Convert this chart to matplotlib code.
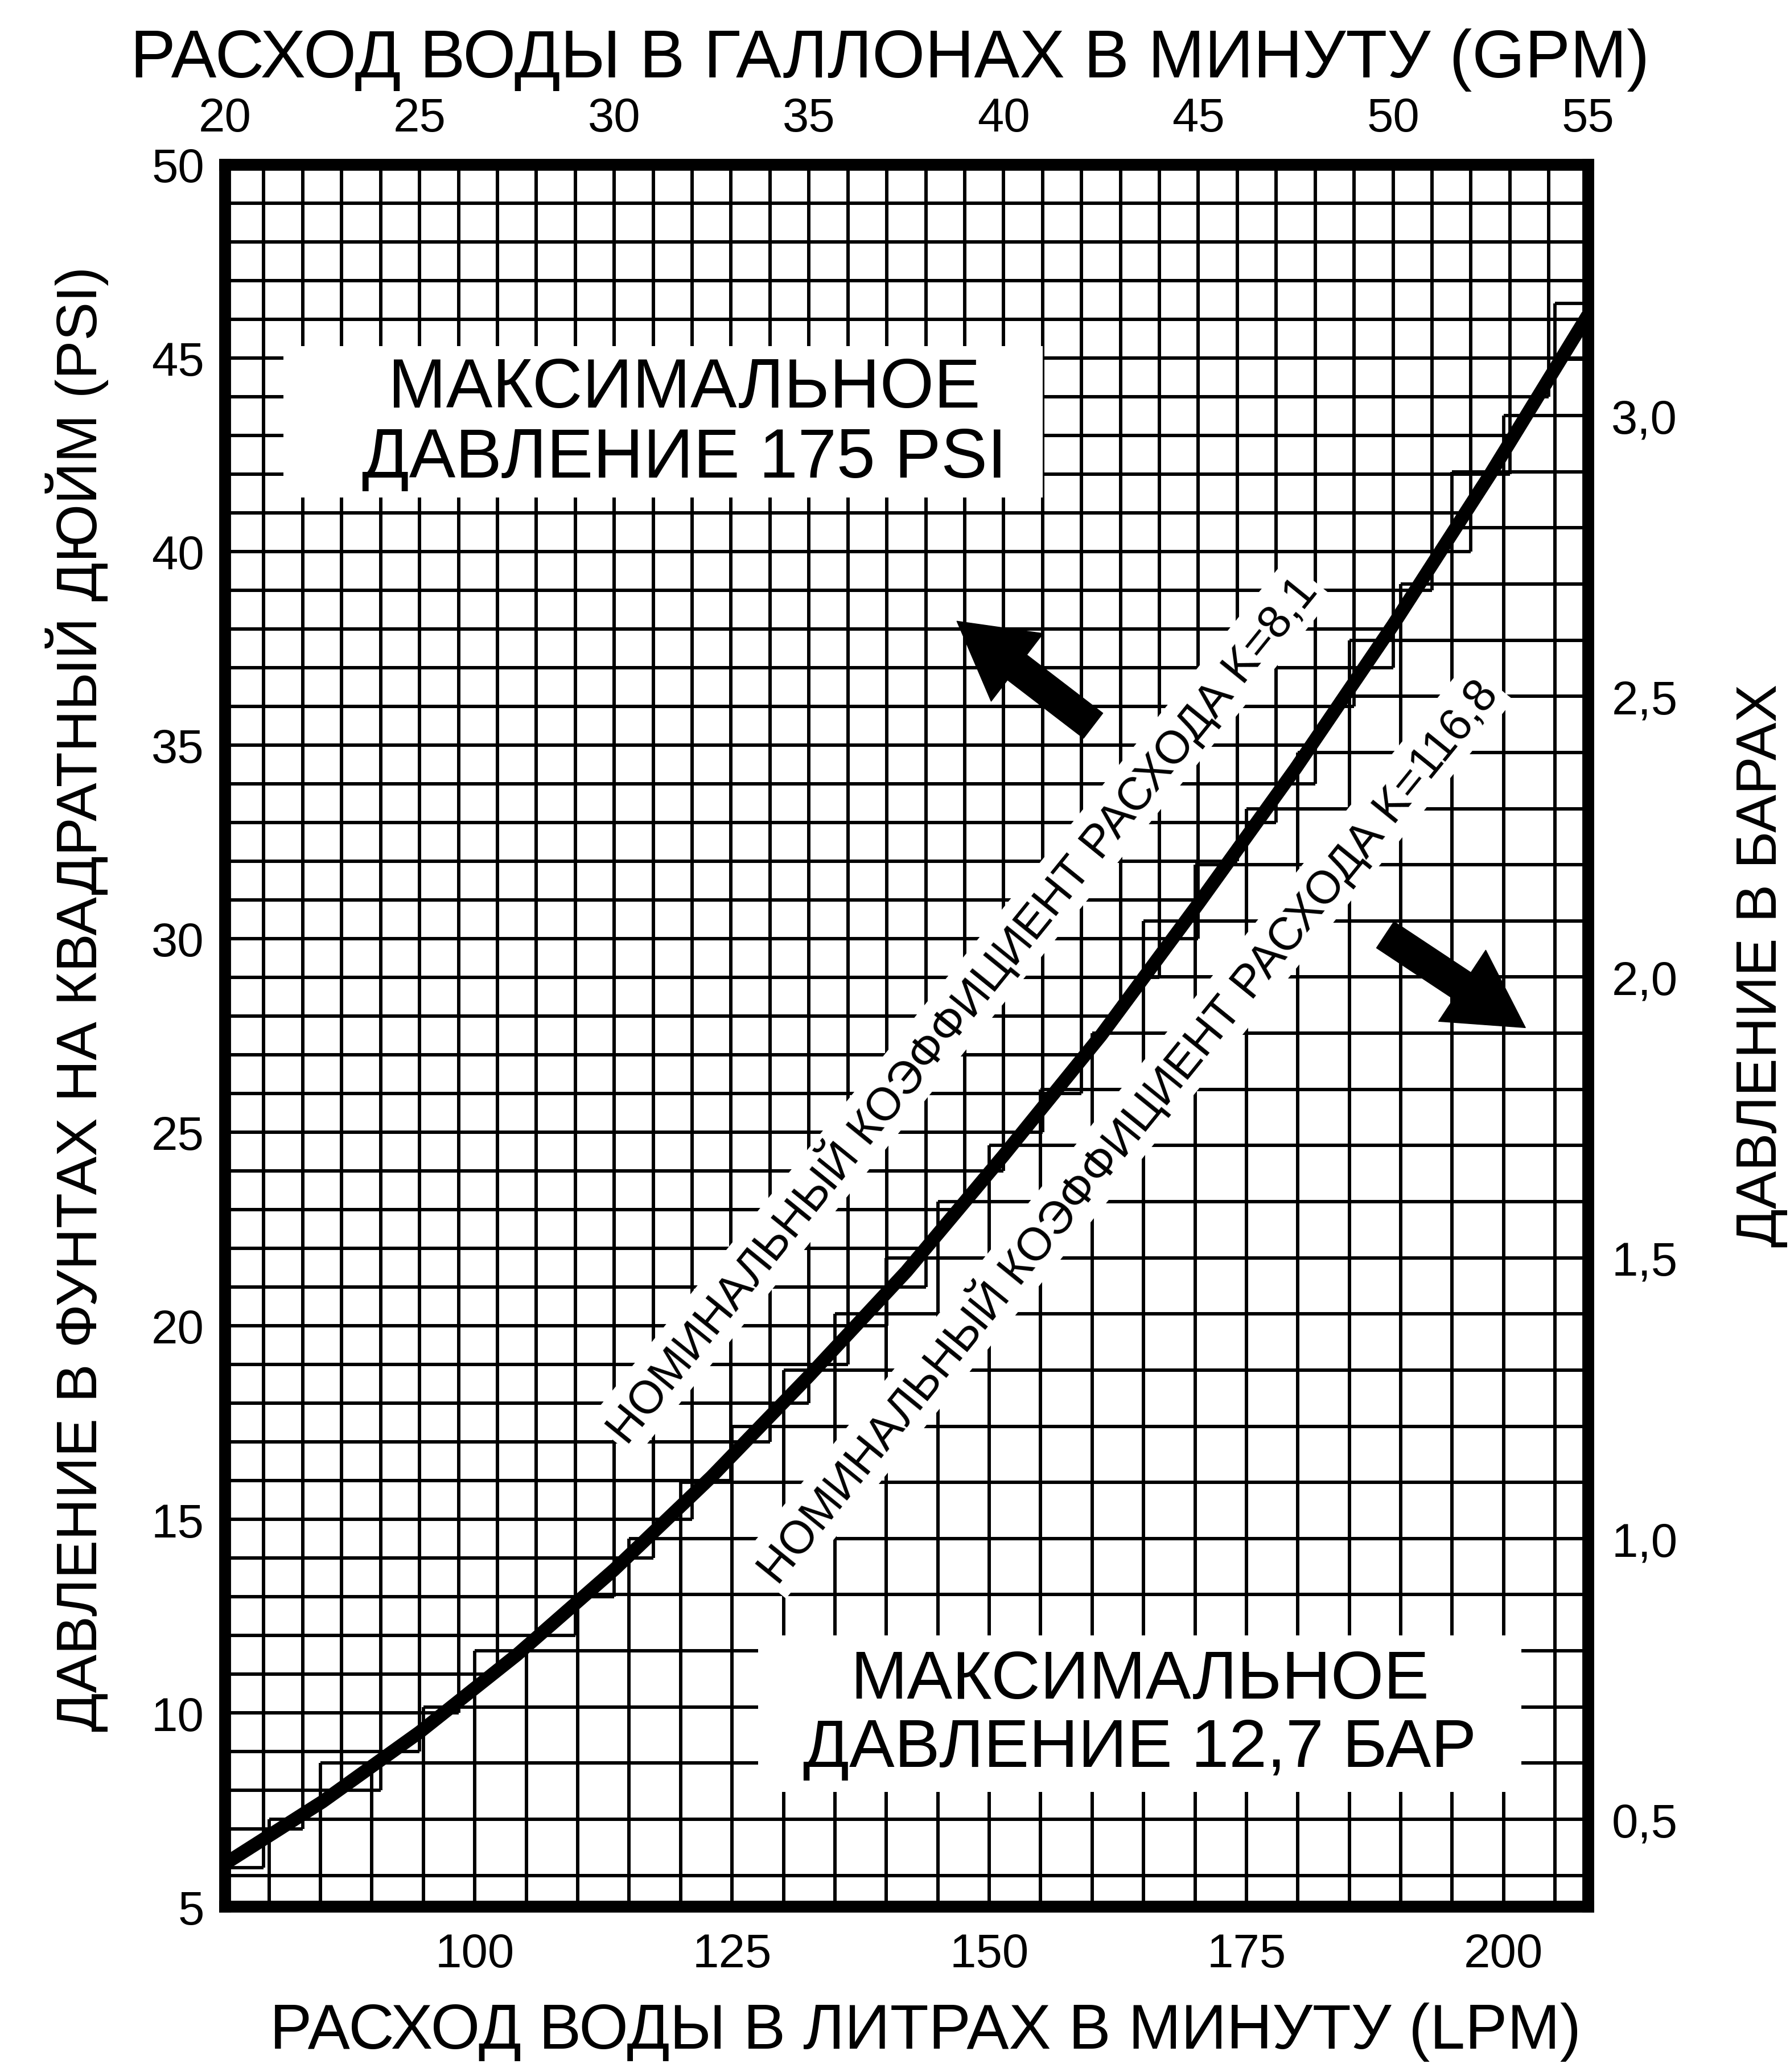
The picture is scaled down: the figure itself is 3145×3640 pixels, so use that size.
import numpy as np
import matplotlib
matplotlib.use('Agg')
import matplotlib.pyplot as plt
from matplotlib.collections import LineCollection
from matplotlib.patches import Rectangle, FancyArrowPatch

plt.rcParams['font.family'] = ['Liberation Sans', 'DejaVu Sans']

# K-factor curve (flow in GPM, pressure in PSI)
gpm = [20, 22.5, 25, 27.5, 30, 32.5, 35, 37.5, 40, 42.5, 45, 47.5, 50, 52.5, 55]
psi = [6.1, 7.7, 9.5, 11.5, 13.7, 16.1, 18.7, 21.4, 24.4, 27.5, 30.9, 34.4, 38.1, 42.0, 46.1]

gpm_ticks = [20, 25, 30, 35, 40, 45, 50, 55]
psi_ticks = [5, 10, 15, 20, 25, 30, 35, 40, 45, 50]
lpm_ticks = [100, 125, 150, 175, 200]
bar_ticks = [0.5, 1.0, 1.5, 2.0, 2.5, 3.0]
bar_labels = ['0,5', '1,0', '1,5', '2,0', '2,5', '3,0']

LPM_PER_GPM = 3.785
PSI_PER_BAR = 14.5038


def g2l(x):
    return np.asarray(x) * LPM_PER_GPM


def l2g(x):
    return np.asarray(x) / LPM_PER_GPM


def p2b(y):
    return np.asarray(y) / PSI_PER_BAR


def b2p(y):
    return np.asarray(y) * PSI_PER_BAR


def curve_at(q):
    return np.interp(q, gpm, psi)


def cell_edges(xs, ys, keep):
    segs = []
    for i in range(len(xs) - 1):
        for j in range(len(ys) - 1):
            if keep((xs[i] + xs[i + 1]) / 2, (ys[j] + ys[j + 1]) / 2):
                x0, x1, y0, y1 = xs[i], xs[i + 1], ys[j], ys[j + 1]
                segs += [[(x0, y0), (x1, y0)], [(x0, y1), (x1, y1)],
                         [(x0, y0), (x0, y1)], [(x1, y0), (x1, y1)]]
    return segs


fig = plt.figure(figsize=(31.45, 36.41), dpi=100)
ax = fig.add_axes([0.1256, 0.0799, 0.7614, 0.8405])
ax.set_xlim(20, 55)
ax.set_ylim(5, 50)

# graph paper: GPM/PSI grid above the curve, LPM/bar grid below it
upper = cell_edges(np.arange(20, 56, 1.0), np.arange(5, 51, 1.0),
                   lambda q, p: p > curve_at(q))
lower = cell_edges(l2g(np.arange(75, 215, 5.0)), b2p(np.arange(0.3, 3.55, 0.1)),
                   lambda q, p: p < curve_at(q))
ax.add_collection(LineCollection(upper, colors='black', linewidths=4.2, zorder=1))
ax.add_collection(LineCollection(lower, colors='black', linewidths=4.2, zorder=1))

# white label boxes
ax.add_patch(Rectangle((21.5, 41.4), 19.5, 3.9, facecolor='white', edgecolor='none', zorder=2))
ax.add_patch(Rectangle((33.7, 7.95), 19.6, 4.05, facecolor='white', edgecolor='none', zorder=2))

ax.text(31.8, 43.3, 'МАКСИМАЛЬНОЕ\nДАВЛЕНИЕ 175 PSI', ha='center', va='center',
        fontsize=88, linespacing=1.1, zorder=3)
ax.text(43.5, 9.95, 'МАКСИМАЛЬНОЕ\nДАВЛЕНИЕ 12,7 БАР', ha='center', va='center',
        fontsize=86, linespacing=1.1, zorder=3)

ax.text(38.9, 28.2, 'НОМИНАЛЬНЫЙ КОЭФФИЦИЕНТ РАСХОДА K=8,1', rotation=51,
        rotation_mode='anchor', ha='center', va='center', fontsize=58, zorder=3,
        bbox=dict(facecolor='white', edgecolor='none', pad=6))
ax.text(43.15, 25.05, 'НОМИНАЛЬНЫЙ КОЭФФИЦИЕНТ РАСХОДА K=116,8', rotation=51,
        rotation_mode='anchor', ha='center', va='center', fontsize=58, zorder=3,
        bbox=dict(facecolor='white', edgecolor='none', pad=6))

ax.plot(gpm, psi, color='black', lw=17, solid_capstyle='butt', zorder=4)

arrow_style = 'simple,head_length=2.4,head_width=2.7,tail_width=1.0'
for tail, tip in [((42.3, 35.5), (38.8, 38.2)), ((49.8, 30.1), (53.4, 27.7))]:
    ax.add_patch(FancyArrowPatch(tail, tip, arrowstyle=arrow_style, mutation_scale=40,
                                 color='black', shrinkA=0, shrinkB=0, zorder=4))

# axes
for s in ax.spines.values():
    s.set_linewidth(15)
    s.set_zorder(6)
ax.xaxis.tick_top()
ax.set_xticks(gpm_ticks)
ax.set_yticks(psi_ticks)
ax.tick_params(axis='x', length=0, pad=30, labelsize=60)
ax.tick_params(axis='y', length=0, pad=26, labelsize=60)

secx = ax.secondary_xaxis('bottom', functions=(g2l, l2g))
secx.set_xticks(lpm_ticks)
secx.tick_params(length=0, pad=32, labelsize=60)
secy = ax.secondary_yaxis('right', functions=(p2b, b2p))
secy.set_yticks(bar_ticks)
secy.set_yticklabels(bar_labels)
secy.tick_params(length=0, pad=30, labelsize=60)
for sec in (secx, secy):
    for s in sec.spines.values():
        s.set_visible(False)

fig.text(0.497, 0.971, 'РАСХОД ВОДЫ В ГАЛЛОНАХ В МИНУТУ (GPM)', ha='center', va='center', fontsize=86)
fig.text(0.517, 0.0195, 'РАСХОД ВОДЫ В ЛИТРАХ В МИНУТУ (LPM)', ha='center', va='center', fontsize=80)
fig.text(0.043, 0.518, 'ДАВЛЕНИЕ В ФУНТАХ НА КВАДРАТНЫЙ ДЮЙМ (PSI)', rotation=90,
         ha='center', va='center', fontsize=73)
fig.text(0.984, 0.534, 'ДАВЛЕНИЕ В БАРАХ', rotation=90, ha='center', va='center', fontsize=72)

fig.savefig('out.png', dpi=100)
plt.close(fig)
